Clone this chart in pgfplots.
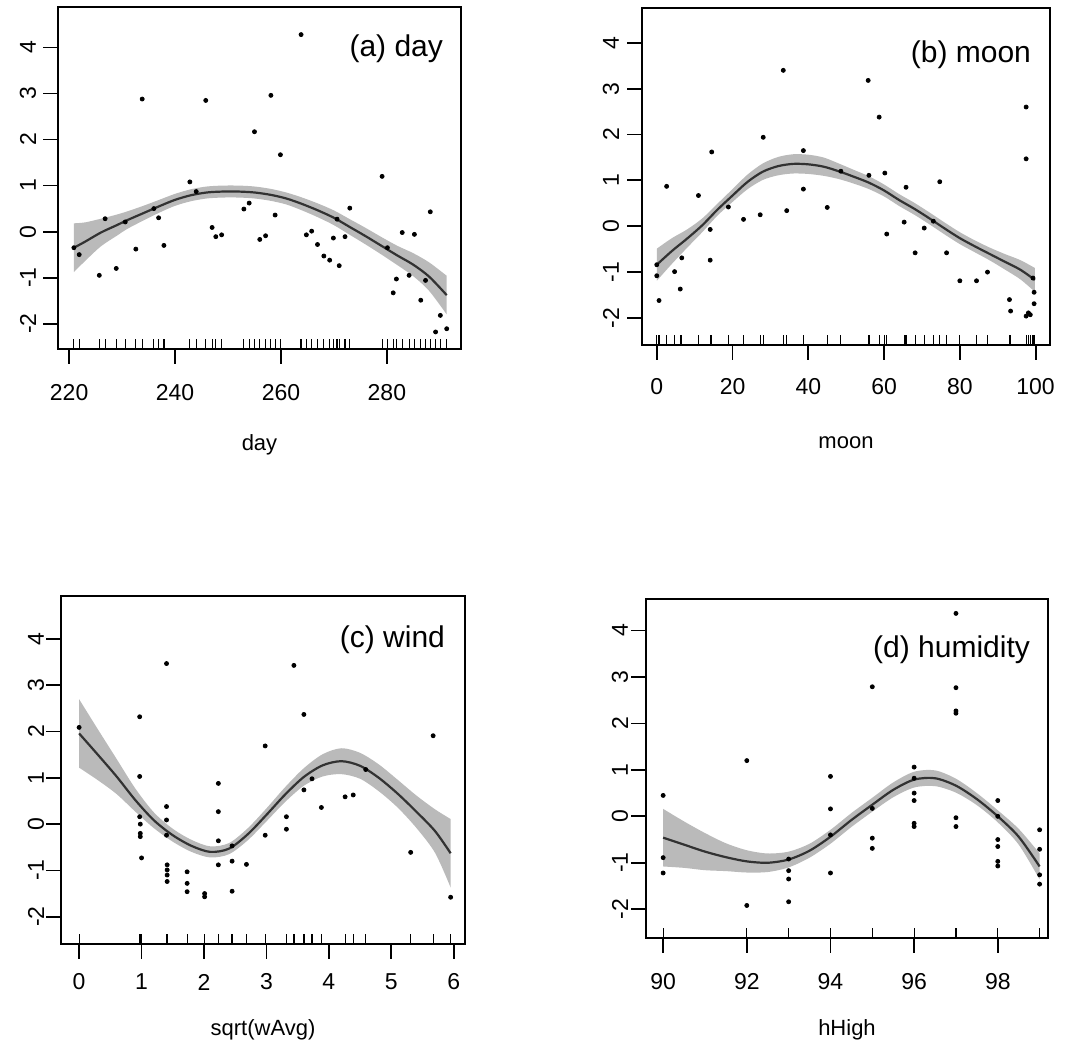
\documentclass[border=0pt]{standalone}
\usepackage{fontspec}
\setmainfont{Liberation Sans}
\usepackage{pgfplots}
\pgfplotsset{compat=1.18}
\usepgfplotslibrary{fillbetween}
\usepackage{pgfplotstable}

\definecolor{bandgray}{RGB}{186,186,186}
\definecolor{curvegray}{RGB}{50,50,50}

\pgfdeclareplotmark{rug}{\pgfpathmoveto{\pgfpointorigin}\pgfpathlineto{\pgfpoint{0pt}{5pt}}\pgfusepathqstroke}

% ---------- panel (a) day ----------
\pgfplotstableread{
x y
220.9 -0.35
221.9 -0.50
225.7 -0.95
226.8 0.28
228.9 -0.80
230.6 0.21
232.6 -0.38
233.8 2.88
236.0 0.50
236.9 0.30
237.9 -0.30
242.8 1.08
244.0 0.87
245.8 2.85
247.0 0.09
247.7 -0.11
248.8 -0.07
253.0 0.49
254.0 0.62
255.0 2.17
256.0 -0.17
257.1 -0.09
258.1 2.96
258.9 0.36
259.9 1.67
263.8 4.28
264.8 -0.07
265.8 0.01
266.9 -0.28
268.1 -0.53
269.2 -0.62
269.9 -0.14
270.6 0.27
271.0 -0.74
272.1 -0.11
273.0 0.51
279.1 1.20
280.1 -0.35
281.2 -1.33
281.8 -1.03
282.9 -0.02
284.2 -0.95
285.2 -0.06
286.4 -1.49
287.3 -1.06
288.2 0.43
289.2 -2.18
290.1 -1.82
291.3 -2.11
}\ptsA
\pgfplotstableread{
x y lo hi
220.9 -0.35 -0.88 0.18
223 -0.22 -0.64 0.20
226 -0.02 -0.32 0.28
229 0.14 -0.09 0.37
231 0.25 0.06 0.44
234 0.40 0.24 0.56
237 0.55 0.41 0.69
240 0.69 0.56 0.82
243 0.79 0.66 0.92
246 0.85 0.72 0.98
249 0.87 0.74 1.00
252 0.87 0.74 1.00
255 0.85 0.72 0.98
258 0.80 0.67 0.93
261 0.72 0.59 0.85
264 0.60 0.46 0.74
267 0.46 0.31 0.61
270 0.30 0.14 0.46
273 0.10 -0.07 0.27
276 -0.10 -0.28 0.08
279 -0.31 -0.50 -0.12
282 -0.52 -0.73 -0.31
285 -0.72 -0.97 -0.47
288 -0.98 -1.29 -0.67
291.3 -1.38 -1.80 -0.96
}\fitA

% ---------- panel (b) moon ----------
\pgfplotstableread{
x y
0 -0.84
0 -1.08
0.6 -1.62
2.6 0.87
4.7 -0.99
6.2 -1.37
6.6 -0.69
11.0 0.67
14.1 -0.07
14.1 -0.74
14.5 1.62
18.9 0.42
22.9 0.15
27.3 0.25
28.1 1.94
33.4 3.40
34.3 0.34
38.7 1.65
38.7 0.81
45.0 0.41
48.6 1.20
55.8 3.18
56.0 1.11
58.7 2.38
60.2 1.16
60.7 -0.17
65.3 0.09
65.8 0.85
68.2 -0.58
70.6 -0.04
73.0 0.11
74.7 0.97
76.5 -0.58
80.0 -1.19
84.4 -1.19
87.3 -1.00
93.1 -1.60
93.4 -1.85
97.5 2.60
97.5 1.47
97.5 -1.96
98.1 -1.89
98.6 -1.93
99.3 -1.13
99.6 -1.44
99.6 -1.69
}\ptsB
\pgfplotstableread{
x y lo hi
0 -0.84 -1.19 -0.49
4 -0.54 -0.82 -0.26
8 -0.27 -0.47 -0.07
12 0.02 -0.13 0.17
16 0.36 0.23 0.49
20 0.67 0.53 0.81
24 0.97 0.81 1.13
28 1.19 1.01 1.37
32 1.31 1.11 1.51
36 1.36 1.15 1.57
40 1.35 1.14 1.56
44 1.30 1.10 1.50
48 1.20 1.03 1.37
52 1.08 0.93 1.23
56 0.95 0.81 1.09
60 0.78 0.65 0.91
64 0.57 0.44 0.70
68 0.38 0.25 0.51
72 0.17 0.04 0.30
76 -0.05 -0.18 0.08
80 -0.26 -0.39 -0.13
84 -0.44 -0.57 -0.31
88 -0.61 -0.75 -0.47
92 -0.78 -0.95 -0.61
96 -0.95 -1.16 -0.74
99.8 -1.17 -1.43 -0.91
}\fitB

% ---------- panel (c) wind ----------
\pgfplotstableread{
x y
0.0 2.09
0.97 2.32
0.97 1.03
0.97 0.16
0.98 0.0
0.98 -0.20
0.98 -0.27
1.0 -0.73
1.40 3.47
1.40 0.38
1.40 0.09
1.40 -0.24
1.41 -0.88
1.41 -0.99
1.41 -1.10
1.41 -1.24
1.73 -1.03
1.73 -1.28
1.73 -1.46
2.01 -1.50
2.01 -1.57
2.23 0.88
2.23 0.27
2.23 -0.36
2.23 -0.88
2.45 -0.47
2.45 -0.80
2.45 -1.45
2.68 -0.87
2.98 1.69
2.98 -0.24
3.32 0.16
3.32 -0.11
3.44 3.43
3.60 2.37
3.60 0.74
3.73 0.98
3.88 0.36
4.26 0.59
4.39 0.63
4.59 1.18
5.31 -0.61
5.67 1.91
5.95 -1.58
}\ptsC
\pgfplotstableread{
x y lo hi
0 1.96 1.22 2.70
0.3 1.50 0.95 2.05
0.6 1.03 0.65 1.41
0.9 0.52 0.27 0.77
1.2 0.08 -0.09 0.25
1.5 -0.24 -0.38 -0.10
1.8 -0.47 -0.60 -0.34
2.1 -0.60 -0.72 -0.48
2.4 -0.53 -0.65 -0.41
2.7 -0.22 -0.35 -0.09
3.0 0.20 0.06 0.34
3.3 0.64 0.48 0.80
3.6 1.02 0.83 1.21
3.9 1.27 1.03 1.51
4.2 1.36 1.08 1.64
4.5 1.26 0.98 1.54
4.8 1.00 0.71 1.29
5.1 0.66 0.36 0.96
5.4 0.27 -0.08 0.62
5.7 -0.15 -0.62 0.32
5.95 -0.63 -1.37 0.11
}\fitC

% ---------- panel (d) humidity ----------
\pgfplotstableread{
x y
90 0.45
90 -0.89
90 -1.22
92 1.20
92 -1.92
93 -0.92
93 -1.17
93 -1.35
93 -1.84
94 0.86
94 0.16
94 -0.40
94 -1.22
95 2.79
95 0.17
95 -0.47
95 -0.69
96 1.06
96 0.82
96 0.50
96 0.34
96 -0.15
96 -0.22
97 4.37
97 2.77
97 2.27
97 2.22
97 -0.03
97 -0.22
98 0.34
98 0.00
98 -0.50
98 -0.65
98 -0.97
98 -1.07
99 -0.29
99 -0.71
99 -1.26
99 -1.46
}\ptsD
\pgfplotstableread{
x y lo hi
90 -0.46 -1.08 0.16
90.5 -0.61 -1.11 -0.11
91 -0.76 -1.16 -0.36
91.5 -0.88 -1.18 -0.58
92 -0.97 -1.21 -0.73
92.5 -1.00 -1.20 -0.80
93 -0.93 -1.10 -0.76
93.5 -0.74 -0.89 -0.59
94 -0.44 -0.59 -0.29
94.5 -0.08 -0.23 0.07
95 0.25 0.10 0.40
95.5 0.57 0.41 0.73
96 0.79 0.62 0.96
96.5 0.82 0.65 0.99
97 0.66 0.51 0.81
97.5 0.37 0.24 0.50
98 0.00 -0.13 0.13
98.5 -0.44 -0.61 -0.27
99 -1.08 -1.36 -0.80
}\fitD

\tikzset{titlestyle/.style={anchor=base east, font=\fontsize{15}{18}\selectfont}}

\pgfplotsset{
  gampanel/.style={
    scale only axis, clip=false, anchor=south west,
    axis line style={line width=0.9pt, black},
    tick align=outside, xtick pos=bottom, ytick pos=left,
    major tick length=7.5pt,
    every tick/.style={line width=0.9pt, black},
    minor tick num=0,
    ytick={-2,-1,0,1,2,3,4},
    yticklabels={-2,-1,0,1,2,3,4},
    yticklabel style={rotate=90, anchor=center, font=\fontsize{11.5}{13}\selectfont},
    xticklabel style={anchor=center, font=\fontsize{11.5}{13}\selectfont},
    xlabel style={font=\fontsize{11}{13}\selectfont, anchor=center},
  },
  bandstyle/.style={fill=bandgray, draw=none},
  curvestyle/.style={curvegray, line width=1.1pt, smooth},
  ptstyle/.style={only marks, mark=*, mark size=1pt, black},
  rugstyle/.style={only marks, mark=rug, mark options={line width=0.6pt, black}},
}

\begin{document}
\begin{tikzpicture}

% (a)
\begin{axis}[gampanel, at={(29pt,352.5pt)}, width=201.5pt, height=171pt,
  xmin=217.9, xmax=294.0, ymin=-2.55, ymax=4.88,
  xtick={220,240,260,280}, xticklabels={220,240,260,280},
  xlabel={day},
  xlabel style={at={(axis description cs:0.5,0)}, yshift=-48pt},
  xticklabel style={yshift=-14.5pt}, yticklabel style={yshift=7.5pt}]
  \addplot[draw=none, name path=loA, smooth] table[x=x, y=lo] {\fitA};
  \addplot[draw=none, name path=hiA, smooth] table[x=x, y=hi] {\fitA};
  \addplot[bandstyle] fill between[of=loA and hiA];
  \addplot[curvestyle] table[x=x, y=y] {\fitA};
  \addplot[ptstyle] table[x=x, y=y] {\ptsA};
  \addplot[rugstyle] table[x=x, y expr=-2.55] {\ptsA};
  \node[titlestyle, xshift=-5.5pt, yshift=-25pt] at (rel axis cs:1,1) {(a) day};
\end{axis}

% (b)
\begin{axis}[gampanel, at={(321pt,354.5pt)}, width=204pt, height=168.5pt,
  xmin=-3.9, xmax=103.8, ymin=-2.59, ymax=4.76,
  xtick={0,20,40,60,80,100}, xticklabels={0,20,40,60,80,100},
  xlabel={moon},
  xlabel style={at={(axis description cs:0.5,0)}, yshift=-49pt},
  xticklabel style={yshift=-13.5pt}, yticklabel style={yshift=8pt}]
  \addplot[draw=none, name path=loB, smooth] table[x=x, y=lo] {\fitB};
  \addplot[draw=none, name path=hiB, smooth] table[x=x, y=hi] {\fitB};
  \addplot[bandstyle] fill between[of=loB and hiB];
  \addplot[curvestyle] table[x=x, y=y] {\fitB};
  \addplot[ptstyle] table[x=x, y=y] {\ptsB};
  \addplot[rugstyle] table[x=x, y expr=-2.59] {\ptsB};
  \node[titlestyle, xshift=-6pt, yshift=-27.5pt] at (rel axis cs:1,1) {(b) moon};
\end{axis}

% (c)
\begin{axis}[gampanel, at={(30.5pt,55pt)}, width=202pt, height=174pt,
  xmin=-0.29, xmax=6.18, ymin=-2.59, ymax=4.93,
  xtick={0,1,2,3,4,5,6}, xticklabels={0,1,2,3,4,5,6},
  xlabel={sqrt(wAvg)},
  xlabel style={at={(axis description cs:0.5,0)}, yshift=-43pt},
  xticklabel style={yshift=-11.5pt}, yticklabel style={yshift=5pt}]
  \addplot[draw=none, name path=loC, smooth] table[x=x, y=lo] {\fitC};
  \addplot[draw=none, name path=hiC, smooth] table[x=x, y=hi] {\fitC};
  \addplot[bandstyle] fill between[of=loC and hiC];
  \addplot[curvestyle] table[x=x, y=y] {\fitC};
  \addplot[ptstyle] table[x=x, y=y] {\ptsC};
  \addplot[rugstyle] table[x=x, y expr=-2.59] {\ptsC};
  \node[titlestyle, xshift=-6.5pt, yshift=-26pt] at (rel axis cs:1,1) {(c) wind};
\end{axis}

% (d)
\begin{axis}[gampanel, at={(323pt,58pt)}, width=201pt, height=169.5pt,
  xmin=89.59, xmax=99.2, ymin=-2.62, ymax=4.68,
  xtick={90,92,94,96,98}, xticklabels={90,92,94,96,98},
  xlabel={hHigh},
  xlabel style={at={(axis description cs:0.5,0)}, yshift=-46pt},
  xticklabel style={yshift=-14.5pt}, yticklabel style={yshift=5.5pt}]
  \addplot[draw=none, name path=loD, smooth] table[x=x, y=lo] {\fitD};
  \addplot[draw=none, name path=hiD, smooth] table[x=x, y=hi] {\fitD};
  \addplot[bandstyle] fill between[of=loD and hiD];
  \addplot[curvestyle] table[x=x, y=y] {\fitD};
  \addplot[ptstyle] table[x=x, y=y] {\ptsD};
  \addplot[rugstyle] table[x=x, y expr=-2.62] {\ptsD};
  \node[titlestyle, xshift=-5.5pt, yshift=-29pt] at (rel axis cs:1,1) {(d) humidity};
\end{axis}
\pgfresetboundingbox
\useasboundingbox (0,0) rectangle (539pt,527pt);
\end{tikzpicture}
\end{document}
